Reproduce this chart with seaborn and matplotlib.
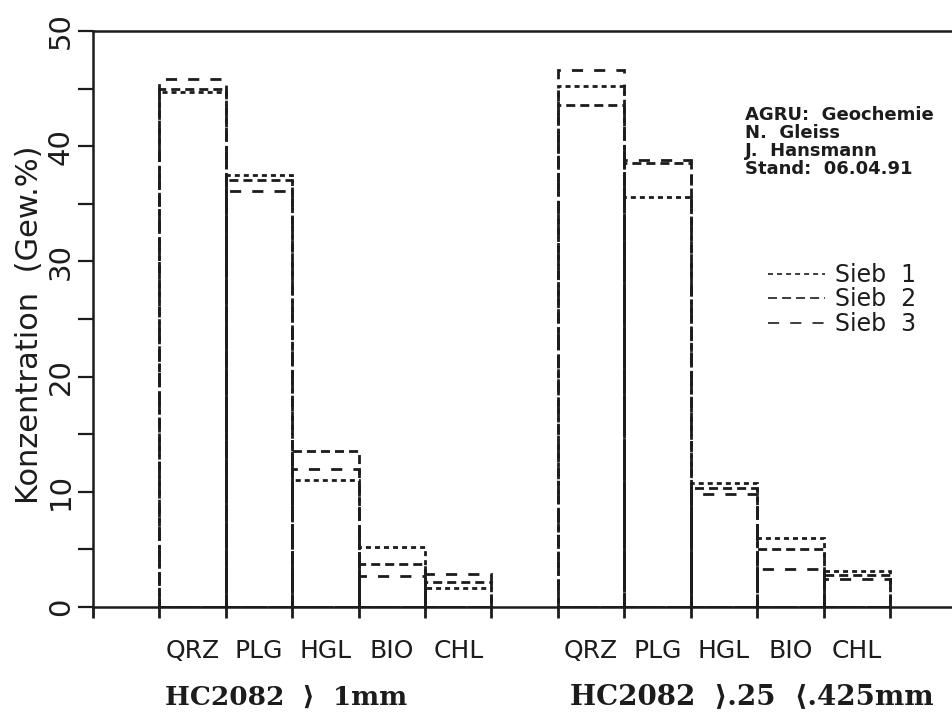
import matplotlib
matplotlib.use("Agg")
import matplotlib.pyplot as plt
from matplotlib.lines import Line2D
import numpy as np
import pandas as pd
import seaborn as sns

# ---- data ----
minerals = ["QRZ", "PLG", "HGL", "BIO", "CHL"]
samples = ["HC2082  \u27e9  1mm", "HC2082  \u27e9.25  \u27e8.425mm"]
series_names = ["Sieb  1", "Sieb  2", "Sieb  3"]
sieb1 = [44.7, 37.5, 11.0, 5.2, 1.65, 45.2, 35.6, 10.8, 6.0, 3.15]
sieb2 = [45.0, 37.1, 13.5, 3.7, 2.2, 43.6, 38.5, 10.3, 5.05, 2.8]
sieb3 = [45.8, 36.1, 12.0, 2.7, 2.9, 46.6, 38.8, 9.8, 3.3, 2.4]
yticks = [0, 10, 20, 30, 40, 50]
info_lines = ["AGRU:  Geochemie", "N.  Gleiss", "J.  Hansmann", "Stand:  06.04.91"]

# positions: group 1 at 0..4, group 2 at 6..10 (one empty slot between)
positions = list(range(5)) + list(range(6, 11))
labels = minerals + minerals

sns.set_theme(style="white")
plt.rcParams["lines.scale_dashes"] = False
plt.rcParams["font.family"] = ["DejaVu Sans"]

INK = "#1c1c1c"
W, H = 953, 717
fig = plt.figure(figsize=(W / 100, H / 100), dpi=100)
ax = fig.add_axes([93 / W, (H - 607) / H, (W - 93) / W, (607 - 31) / H])

styles = [(0, (3.6, 2.9)), (0, (6.5, 3.6)), (0, (8.0, 8.0))]
all_series = [sieb1, sieb2, sieb3]
for vals, ls in zip(all_series, styles):
    d = pd.DataFrame({"pos": positions, "val": vals})
    sns.barplot(data=d, x="pos", y="val", native_scale=True, width=1.0,
                fill=False, color=INK, linewidth=2.0, linestyle=ls,
                errorbar=None, ax=ax)

ax.set_xlim(-1.5, 11.45)
ax.set_ylim(0, 50)
ax.set_xlabel("")
ax.set_ylabel("")

# x ticks: category labels (no marks) + marks at bar edges
ax.set_xticks(positions)
ax.set_xticklabels(labels, fontsize=18, color=INK)
ax.tick_params(axis="x", which="major", length=0, pad=23)
edges = [p - 0.5 for p in positions] + [positions[-1] + 0.5, 4.5, -1.5]
ax.set_xticks(sorted(set(edges)), minor=True)
ax.tick_params(axis="x", which="minor", length=8, width=2, color=INK,
               direction="out", bottom=True)

# y ticks
ax.set_yticks(np.arange(0, 51, 5))
ax.set_yticklabels([str(v) if v in yticks else "" for v in range(0, 51, 5)],
                   rotation=90, va="center", fontsize=21, color=INK)
ax.tick_params(axis="y", which="major", length=11, width=1.6, color=INK,
               direction="out", left=True, pad=2)

for side in ["left", "bottom", "top"]:
    ax.spines[side].set_visible(True)
    ax.spines[side].set_color(INK)
    ax.spines[side].set_linewidth(1.8)
    ax.spines[side].set_zorder(5)
ax.spines["right"].set_visible(False)
ax.grid(False)

# y label
fig.text(30 / W, 1 - 325 / H, "Konzentration  (Gew.%)", rotation=90,
         ha="center", va="center", fontsize=22, color=INK)

# group labels
fig.text(165 / W, 1 - 697 / H, samples[0], ha="left", va="center",
         fontsize=19, fontweight="bold", color=INK,
         family=["DejaVu Serif", "DejaVu Sans"])
fig.text(570 / W, 1 - 697 / H, samples[1], ha="left", va="center",
         fontsize=20, fontweight="bold", color=INK,
         family=["DejaVu Serif", "DejaVu Sans"])

# info block
for i, line in enumerate(info_lines):
    fig.text(745 / W, 1 - (115 + 18 * i) / H, line, ha="left", va="center",
             fontsize=13, fontweight="bold", color=INK,
             family=["DejaVu Sans"])

# legend
handles = [Line2D([0], [0], color=INK, lw=1.2, linestyle=ls) for ls in styles]
ax.legend(handles, series_names, loc="upper left",
          bbox_to_anchor=(768 / W, 1 - 263 / H), bbox_transform=fig.transFigure,
          frameon=False, fontsize=17, handlelength=2.4, handletextpad=0.45,
          labelspacing=0.02, borderpad=0, borderaxespad=0,
          labelcolor=INK)

fig.savefig("out.png", dpi=100)
